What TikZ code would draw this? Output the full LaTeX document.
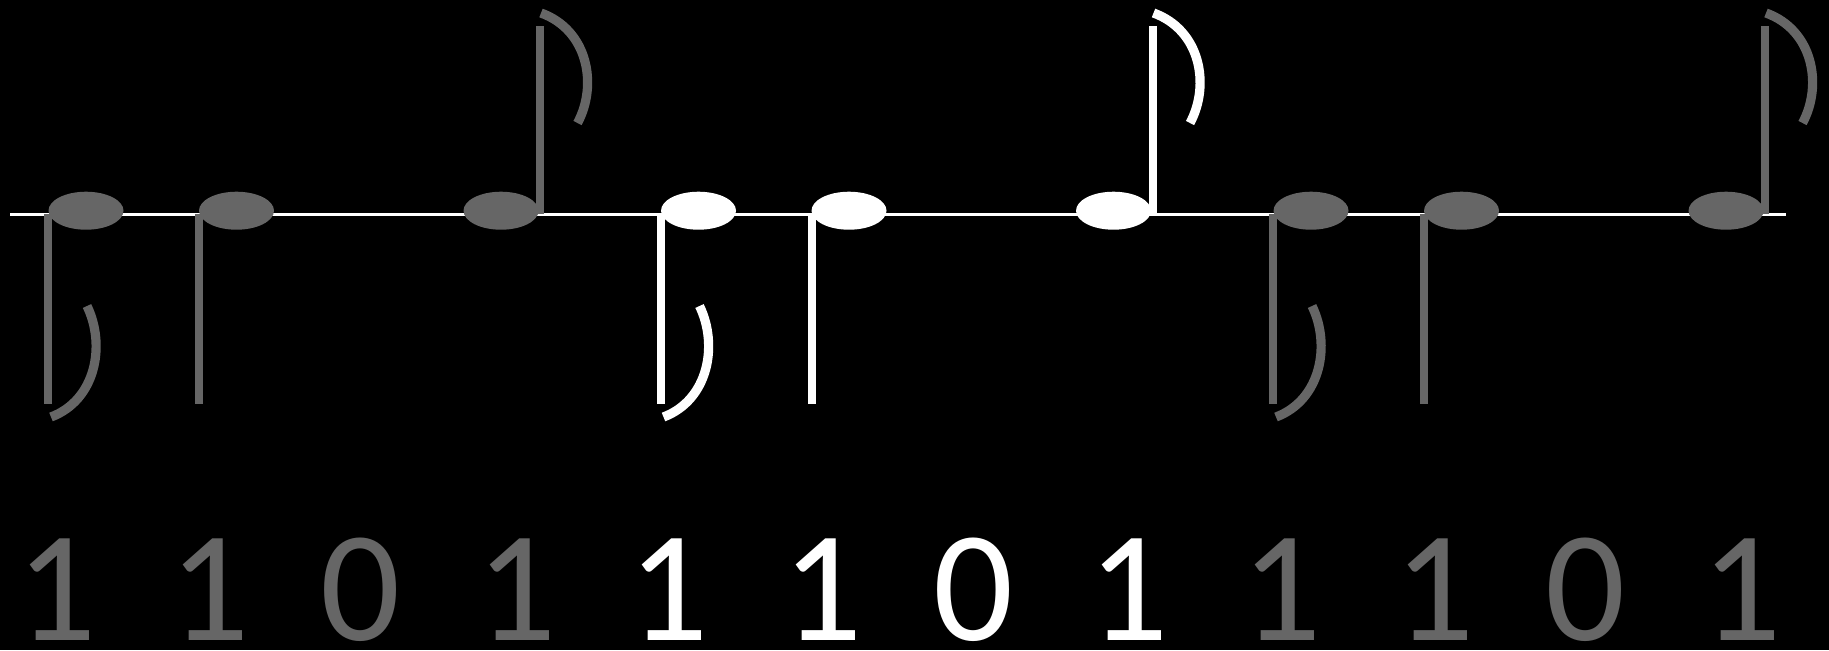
\documentclass[tikz,border=0pt]{standalone}
\usepackage{fontspec}
\setmainfont{Carlito}
\usepackage{tikz}
\usetikzlibrary{positioning}
\definecolor{grayA}{HTML}{666666}
\tikzset{
  staff/.style={draw=white, line width=1.6pt},
  notehead/.style={fill=#1},
  stemline/.style={draw=#1, line width=4pt},
  flagline/.style={draw=#1, line width=4.6pt},
  digit/.style={text=#1, anchor=base, inner sep=0pt,
    font=\fontsize{79}{82}\selectfont}
}

\begin{document}
\begin{tikzpicture}[x=0.5pt, y=-0.5pt]
  \fill[black] (0,0) rectangle (1829,650);
  \useasboundingbox (0,0) rectangle (1829,650);
  \draw[staff] (10,214.3) -- (1786,214.3);
  % three groups of four beats: 1 1 0 1
  \foreach \g/\col in {0/grayA, 1/white, 2/grayA} {
    \begin{scope}[xshift=\g*306.25pt]
      % first note, stem down with flag
      \fill[notehead=\col] (86,210.7) ellipse [x radius=37.5, y radius=19];
      \draw[stemline=\col] (48,214) -- (48,404);
      \draw[flagline=\col] (87,306) .. controls (106,345) and (96,400) .. (51,417);
      % second note, stem down
      \fill[notehead=\col] (236.5,210.7) ellipse [x radius=37.5, y radius=19];
      \draw[stemline=\col] (199,214) -- (199,404);
      % third note, stem up with flag
      \fill[notehead=\col] (501,210.7) ellipse [x radius=37.5, y radius=19];
      \draw[stemline=\col] (540,214) -- (540,26);
      \draw[flagline=\col] (541,13) .. controls (588,30) and (598,85) .. (577.5,123);
      % bits
      \foreach \i/\x/\b in {1/56.5/1, 2/209.8/1, 3/360.8/0, 4/516.2/1}
        \node[digit=\col] (bit\g\i) at (\x,640.5) {\b};
    \end{scope}
  }
\end{tikzpicture}
\end{document}
